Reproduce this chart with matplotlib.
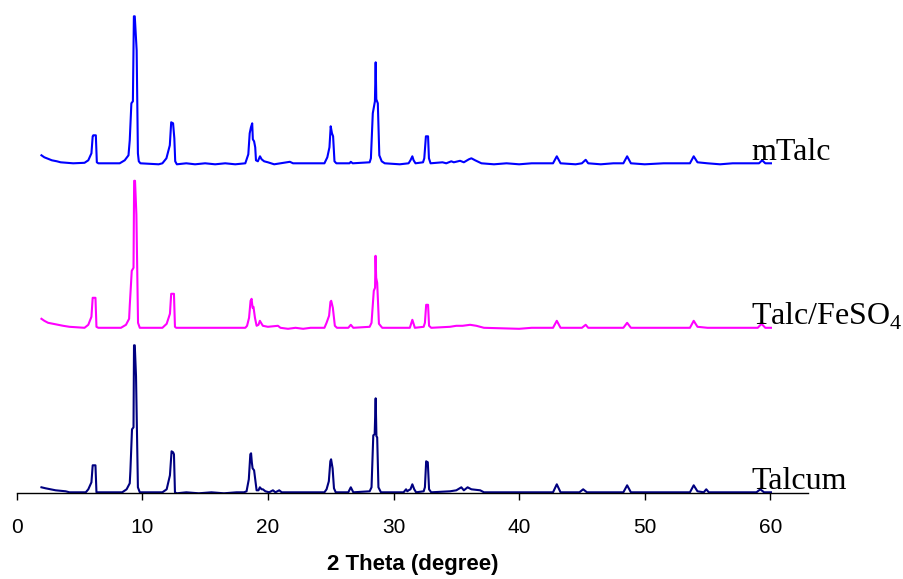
import numpy as np
import matplotlib
matplotlib.use("Agg")
import matplotlib.pyplot as plt

plt.rcParams['mathtext.fontset'] = 'custom'
plt.rcParams['mathtext.rm'] = 'Liberation Serif'

# XRD patterns, (2 theta, intensity a.u.) vertices
talcum_pts = [
    (1.97, 5), (2.3, 4), (2.7, 3), (3.1, 2), (3.5, 1.5), (3.9, 1), (4.2, 0), (5.5, 0),
    (5.7, 3), (5.95, 10), (6.05, 27), (6.27, 27), (6.35, 0), (8.4, 0),
    (8.75, 3), (9.0, 9), (9.05, 21), (9.18, 63), (9.3, 65), (9.34, 147), (9.4, 147),
    (9.5, 116), (9.65, 5), (9.8, 0), (11.6, 0),
    (11.94, 3), (12.2, 17), (12.33, 41), (12.45, 40), (12.52, 38), (12.6, 0),
    (12.75, -1), (13.5, 0), (14.5, -1), (15.5, 0), (16.5, -1), (17.5, 0), (18.1, 0),
    (18.3, 1), (18.48, 13), (18.6, 38), (18.66, 39), (18.72, 30), (18.78, 24),
    (18.9, 22), (18.99, 13), (19.1, 2), (19.25, 2), (19.36, 5), (19.5, 3), (19.6, 3),
    (19.8, 1), (20.1, 0), (20.4, 2), (20.6, 0), (20.9, 2), (21.1, 0), (24.5, 0),
    (24.67, 3), (24.85, 11), (24.97, 31), (25.03, 33), (25.15, 24), (25.26, 4), (25.4, 0),
    (26.4, 0), (26.6, 5), (26.8, 0), (28.1, 1),
    (28.25, 5), (28.39, 57), (28.5, 58), (28.58, 94), (28.64, 56), (28.7, 55), (28.8, 5),
    (29.0, 0), (30.8, 0), (31.0, 3), (31.1, 1), (31.2, 2), (31.35, 3), (31.5, 8),
    (31.65, 3), (31.8, 0), (32.4, 1), (32.5, 5), (32.6, 31), (32.73, 30), (32.83, 3),
    (33.0, 0), (34.5, 1), (35.0, 2), (35.4, 5), (35.6, 2), (35.9, 5), (36.2, 3),
    (36.9, 2), (37.2, 0), (42.7, 0), (43.0, 8), (43.3, 0), (44.8, 0), (45.1, 3),
    (45.4, 0), (48.3, 0), (48.6, 7), (48.9, 0), (53.6, 0), (53.9, 7), (54.2, 1),
    (54.7, 0), (54.9, 3), (55.1, 0), (58.9, 0), (59.2, 3), (59.5, 0), (60.05, 0),
]

feso4_pts = [
    (1.97, 9), (2.2, 7), (2.5, 5), (2.9, 4), (3.3, 3), (3.7, 2), (4.2, 1), (4.8, 0.5),
    (5.4, 0), (5.7, 3), (5.95, 11), (6.05, 30), (6.27, 30), (6.35, 1), (6.5, 0), (8.3, 0),
    (8.7, 3), (8.95, 9), (9.0, 22), (9.16, 57), (9.3, 60), (9.35, 147), (9.42, 147),
    (9.53, 113), (9.66, 5), (9.8, 0), (11.6, 0),
    (11.94, 4), (12.2, 14), (12.3, 34), (12.52, 34), (12.6, 1), (12.7, 0), (18.2, 0),
    (18.34, 2), (18.5, 10), (18.62, 27), (18.7, 29), (18.78, 20), (18.85, 21),
    (18.97, 10), (19.1, 2), (19.25, 3), (19.36, 7), (19.5, 4), (19.6, 2), (20.0, 1),
    (20.8, 2), (21.0, 0), (21.6, -1), (22.2, 0), (22.8, -1), (23.4, 0), (24.5, 0),
    (24.67, 5), (24.87, 12), (24.98, 26), (25.04, 27), (25.17, 20), (25.33, 2), (25.5, 0),
    (26.4, 0), (26.6, 3), (26.8, 0), (28.1, 1),
    (28.25, 5), (28.43, 37), (28.53, 40), (28.57, 72), (28.62, 50), (28.7, 45),
    (28.84, 4), (29.1, 0), (31.3, 0), (31.5, 8), (31.7, 0),
    (32.4, 1), (32.5, 5), (32.6, 23), (32.75, 23), (32.83, 2), (33.0, 0),
    (34.5, 1), (35.0, 2), (35.5, 2), (36.1, 3), (36.6, 2), (37.2, 0), (40.0, -1), (41.0, 0),
    (42.7, 0), (43.0, 7), (43.3, 0), (45.0, 0), (45.3, 3), (45.5, 0), (48.3, 0),
    (48.6, 5), (48.9, 0), (53.6, 0), (53.9, 7), (54.2, 1), (55.0, 0), (59.0, 0),
    (59.3, 4), (59.6, 0), (60.05, 0),
]

mtalc_pts = [
    (1.97, 8), (2.2, 6), (2.5, 4.5), (2.8, 3), (3.2, 2), (3.5, 1), (4.0, 0.5), (4.5, 0),
    (5.4, 0.5), (5.7, 3), (5.95, 10), (6.05, 27), (6.1, 28), (6.3, 28), (6.38, 1),
    (6.5, 0), (8.2, 0), (8.6, 3), (8.9, 8), (9.0, 23), (9.13, 60), (9.25, 62),
    (9.33, 147), (9.4, 147), (9.55, 113), (9.65, 10), (9.72, 2), (9.85, 0), (11.3, -1),
    (11.6, 0), (11.92, 5), (12.19, 18), (12.3, 41), (12.45, 40), (12.55, 25), (12.62, 2),
    (12.75, -1), (13.5, 0), (14.2, -1), (15.0, 0), (15.8, -1), (16.6, 0), (17.4, -1),
    (18.2, 0), (18.44, 9), (18.55, 30), (18.65, 36), (18.75, 40), (18.8, 24), (18.9, 22),
    (18.99, 16), (19.05, 3), (19.2, 2), (19.37, 7), (19.5, 4), (19.7, 2), (20.0, 1),
    (20.5, -1), (21.0, 0), (21.75, 1.5), (22.0, 0), (24.5, 0), (24.73, 6), (24.9, 16),
    (25.0, 37), (25.1, 30), (25.19, 27), (25.3, 2), (25.45, 0), (26.5, 0), (26.6, 1.5),
    (26.75, 0), (28.1, 1), (28.2, 5), (28.35, 50), (28.52, 62), (28.58, 101), (28.63, 64),
    (28.75, 60), (28.87, 8), (29.06, 2), (29.3, 0), (30.5, -1), (31.2, 0), (31.35, 3),
    (31.5, 7), (31.6, 3), (31.75, 0), (32.35, 1), (32.45, 5), (32.58, 27), (32.75, 27),
    (32.82, 5), (32.95, 0), (33.9, 1), (34.2, 0), (34.6, 2), (34.8, 1), (35.3, 2.5),
    (35.6, 1), (36.0, 4), (36.2, 5), (36.5, 3), (37.0, 0), (38.0, -1), (39.0, 0),
    (40.0, -1), (41.0, 0), (42.7, 0), (43.0, 7), (43.3, 0), (44.5, -1), (45.0, 0),
    (45.3, 3.5), (45.5, 0), (46.5, -1), (47.5, 0), (48.3, 0), (48.6, 7), (48.9, 0),
    (50.0, -1), (51.5, 0), (53.6, 0), (53.9, 7), (54.2, 1), (55.0, 0), (56.0, -1),
    (57.0, 0), (59.1, 0), (59.35, 3), (59.6, 0), (60.05, 0),
]

sample_names = ['Talcum', 'Talc/FeSO$_{\\mathrm{4}}$', 'mTalc']
x_ticks = [0, 10, 20, 30, 40, 50, 60]

# vertical stacking of the patterns
shift = 164.5
colors = ['#000080', '#FF00FF', '#0000FF']

fig = plt.figure(figsize=(9.04, 5.79), dpi=100)
ax = fig.add_axes([16.7 / 904, (579 - 493.3) / 579, (808 - 16.7) / 904, 481 / 579])

for i, pts in enumerate([talcum_pts, feso4_pts, mtalc_pts]):
    d = np.array(pts)
    ax.plot(d[:, 0], d[:, 1] + i * shift, color=colors[i], lw=1.5)
    ax.text(58.5, 3 + i * shift, sample_names[i], family='Liberation Serif',
            fontsize=23, ha='left', va='baseline')

ax.set_xlim(0, 63)
ax.set_ylim(-1, 480)
ax.set_xticks(x_ticks)
ax.set_yticks([])
for s in ['left', 'top', 'right']:
    ax.spines[s].set_visible(False)
ax.spines['bottom'].set_linewidth(1.0)
ax.tick_params(axis='x', direction='out', length=5, width=1.0, pad=13,
               labelsize=15)
for lab in ax.get_xticklabels():
    lab.set_family('Liberation Sans')
ax.set_xlabel('2 Theta (degree)', family='Liberation Sans', fontsize=16,
              fontweight='bold', labelpad=12)

fig.savefig('out.png', dpi=100)
